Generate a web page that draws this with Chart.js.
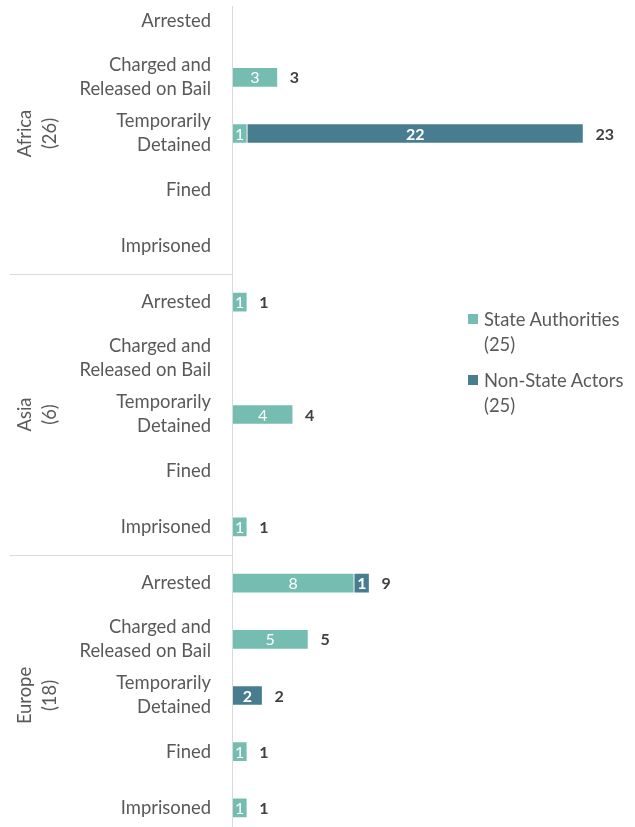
<!DOCTYPE html>
<html>
<head>
<meta charset="utf-8">
<script src="https://cdn.jsdelivr.net/npm/chart.js@4.4.1/dist/chart.umd.min.js"></script>
<style>
  html, body { margin: 0; padding: 0; background: #fff; overflow: hidden; }
  body { width: 635px; height: 827px; position: relative; font-family: Lato, sans-serif; }
  #wrap { position: absolute; left: 0; top: -7px; width: 635px; height: 843px; }
  .legend { position: absolute; left: 468px; color: #595959; font-size: 18.4px; line-height: 25px; white-space: nowrap; }
  .legend .sw { position: absolute; left: 0; top: 7px; width: 10px; height: 10px; }
  .legend .tx { margin-left: 16px; }
</style>
</head>
<body>
<div id="wrap"><canvas id="chart" width="635" height="843"></canvas></div>
<div class="legend" style="top:307px"><div class="sw" style="background:#76bdb1"></div><div class="tx">State Authorities<br>(25)</div></div>
<div class="legend" style="top:368px"><div class="sw" style="background:#487d8f"></div><div class="tx">Non-State Actors<br>(25)</div></div>
<script>
// categories, repeated per region
const regions = ['Africa', 'Asia', 'Europe'];
const regionTotals = [26, 6, 18];
const actions = [['Arrested'], ['Charged and', 'Released on Bail'], ['Temporarily', 'Detained'], ['Fined'], ['Imprisoned']];

// values per region, in the order of actions
const stateAuthorities = [
  0, 3, 1, 0, 0,   // Africa
  1, 0, 4, 0, 1,   // Asia
  8, 5, 0, 1, 1    // Europe
];
const nonStateActors = [
  0, 0, 22, 0, 0,
  0, 0, 0, 0, 0,
  1, 0, 2, 0, 0
];

const labels = [];
regions.forEach(() => actions.forEach(a => labels.push(a)));

const fontFamily = 'Lato, sans-serif';
const textColor = '#595959';

const barLabels = {
  id: 'barLabels',
  afterDatasetsDraw(chart) {
    const ctx = chart.ctx;
    const xs = chart.scales.x;
    ctx.save();
    ctx.textBaseline = 'middle';
    chart.data.datasets.forEach((ds, di) => {
      const meta = chart.getDatasetMeta(di);
      meta.data.forEach((bar, i) => {
        const v = ds.data[i];
        if (!v) return;
        ctx.fillStyle = '#fff';
        ctx.textAlign = 'center';
        ctx.font = (di === 1 ? 'bold ' : '') + '16px ' + fontFamily;
        ctx.fillText(String(v), (bar.x + bar.base) / 2, bar.y + 1);
      });
    });
    // totals
    const meta0 = chart.getDatasetMeta(0);
    labels.forEach((l, i) => {
      const total = stateAuthorities[i] + nonStateActors[i];
      if (!total) return;
      ctx.fillStyle = '#404040';
      ctx.textAlign = 'left';
      ctx.font = 'bold 16px ' + fontFamily;
      ctx.fillText(String(total), xs.getPixelForValue(total) + 12, meta0.data[i].y + 1);
    });
    ctx.restore();
  },
  afterDraw(chart) {
    const ctx = chart.ctx;
    const ys = chart.scales.y;
    const left = chart.chartArea.left;
    ctx.save();
    // vertical axis line
    ctx.strokeStyle = '#d9d9d9';
    ctx.lineWidth = 1;
    ctx.beginPath();
    ctx.moveTo(left + 0.5, 13);
    ctx.lineTo(left + 0.5, chart.height);
    ctx.stroke();
    // group separators
    [5, 10].forEach(k => {
      const y = Math.round((ys.getPixelForValue(k - 1) + ys.getPixelForValue(k)) / 2) + 0.5;
      ctx.beginPath();
      ctx.moveTo(10, y);
      ctx.lineTo(left, y);
      ctx.stroke();
    });
    // region labels, rotated
    ctx.fillStyle = textColor;
    ctx.font = '18.4px ' + fontFamily;
    ctx.textAlign = 'center';
    ctx.textBaseline = 'middle';
    regions.forEach((r, g) => {
      const yc = ys.getPixelForValue(g * 5 + 2);
      ctx.save();
      ctx.translate(25, yc);
      ctx.rotate(-Math.PI / 2);
      ctx.fillText(r, 0, 0);
      ctx.restore();
      ctx.save();
      ctx.translate(50, yc);
      ctx.rotate(-Math.PI / 2);
      ctx.fillText('(' + regionTotals[g] + ')', 0, 0);
      ctx.restore();
    });
    ctx.restore();
  }
};

new Chart(document.getElementById('chart'), {
  type: 'bar',
  data: {
    labels: labels,
    datasets: [
      { label: 'State Authorities (25)', data: stateAuthorities, backgroundColor: '#76bdb1', borderColor: '#fff', borderWidth: 1, barThickness: 20 },
      { label: 'Non-State Actors (25)', data: nonStateActors, backgroundColor: '#487d8f', borderColor: '#fff', borderWidth: 1, barThickness: 20 }
    ]
  },
  options: {
    indexAxis: 'y',
    responsive: false,
    animation: false,
    layout: { padding: { left: 0, right: 21, top: 0, bottom: 0 } },
    plugins: { legend: { display: false }, tooltip: { enabled: false } },
    scales: {
      x: { stacked: true, display: false, min: 0, max: 25 },
      y: {
        stacked: true,
        grid: { display: false },
        border: { display: false },
        afterFit(scale) {
          scale.width = 232;
          scale.paddingTop = 0;
          scale.paddingBottom = 0;
        },
        ticks: {
          color: textColor,
          padding: 13,
          autoSkip: false,
          font: { family: fontFamily, size: 18.4, lineHeight: 1.3 }
        }
      }
    }
  },
  plugins: [barLabels]
});
</script>
</body>
</html>
